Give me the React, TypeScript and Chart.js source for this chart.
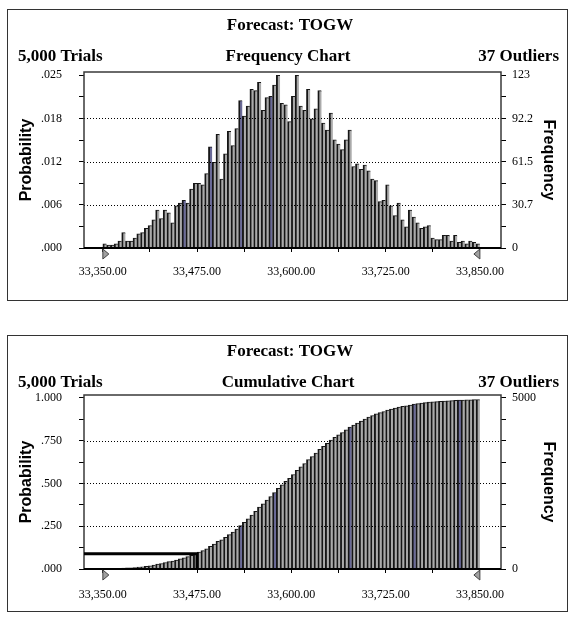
import React, { useEffect, useRef } from 'react';
import { Chart, registerables } from 'chart.js';

Chart.register(...registerables);

// ---------------- data ----------------
const forecastTitle = 'Forecast: TOGW';
const trialsText = '5,000 Trials';
const outliersText = '37 Outliers';
const frequencyChartTitle = 'Frequency Chart';
const cumulativeChartTitle = 'Cumulative Chart';
const leftAxisTitle = 'Probability';
const rightAxisTitle = 'Frequency';

const binStart = 33350;
const binWidth = 5;

// frequency of each of the 100 cells (33,350 .. 33,850)
const frequencies = [
  3, 2, 2, 3, 5, 11, 5, 5, 7, 10,
  11, 14, 16, 20, 27, 21, 27, 25, 18, 30,
  32, 34, 32, 42, 46, 46, 45, 53, 72, 61,
  81, 49, 67, 83, 73, 85, 105, 94, 101, 113,
  112, 118, 98, 107, 108, 116, 123, 103, 102, 90,
  108, 123, 101, 98, 113, 92, 99, 112, 89, 84,
  96, 77, 74, 70, 77, 84, 58, 60, 56, 59,
  55, 49, 48, 33, 34, 45, 30, 23, 32, 20,
  15, 27, 22, 18, 14, 15, 16, 7, 6, 6,
  9, 9, 5, 9, 4, 5, 3, 5, 4, 3,
];

const xTickValues = [33350, 33412.5, 33475, 33537.5, 33600, 33662.5, 33725, 33787.5, 33850];
const xTickLabels = ['33,350.00', '', '33,475.00', '', '33,600.00', '', '33,725.00', '', '33,850.00'];

const freqTickValues = [0, 15.375, 30.75, 46.125, 61.5, 76.875, 92.25, 107.625, 123];
const freqProbLabels = ['.000', '', '.006', '', '.012', '', '.018', '', '.025'];
const freqCountLabels = ['0', '', '30.7', '', '61.5', '', '92.2', '', '123'];
const freqGridValues = [30.75, 61.5, 92.25];

const cumTickValues = [0, 625, 1250, 1875, 2500, 3125, 3750, 4375, 5000];
const cumProbLabels = ['.000', '', '.250', '', '.500', '', '.750', '', '1.000'];
const cumCountLabels = ['0', '', '', '', '', '', '', '', '5000'];
const cumGridValues = [1250, 2500, 3750];

const certaintyValue = 33475;

// cumulative counts are the running total of the frequency cells
const cumulativeCounts = frequencies.reduce<number[]>((acc, f) => {
  acc.push((acc.length ? acc[acc.length - 1] : 0) + f);
  return acc;
}, []);

// ---------------- styles ----------------
const SERIF = '"Liberation Serif", "Times New Roman", serif';
const SANS = '"Liberation Sans", Arial, sans-serif';
const BAR_FILL = '#aaaaaa';
const BAR_EDGE = '#161616';
const BAR_BLUE = '#6a6a98';
const freqBlue = new Set([21, 28, 36, 44]);
const cumBlue = new Set([36, 45, 65, 82, 94]);

const decorPlugin = {
  id: 'decor',
  afterDatasetsDraw(chart: any, _args: any, opts: any) {
    const { ctx, chartArea: a, scales } = chart;
    const y = scales.y;
    const x = scales.x;
    ctx.save();
    // dotted grid lines
    ctx.strokeStyle = '#000';
    ctx.lineWidth = 1;
    ctx.setLineDash([1, 2]);
    opts.gridValues.forEach((v: number) => {
      const py = Math.round(y.getPixelForValue(v)) + 0.5;
      ctx.beginPath();
      ctx.moveTo(a.left, py);
      ctx.lineTo(a.right, py);
      ctx.stroke();
    });
    ctx.setLineDash([]);
    // frame
    ctx.strokeStyle = '#3a3a3a';
    ctx.lineWidth = 1.5;
    ctx.beginPath();
    ctx.moveTo(a.left, a.bottom);
    ctx.lineTo(a.left, a.top);
    ctx.lineTo(a.right, a.top);
    ctx.lineTo(a.right, a.bottom);
    ctx.stroke();
    ctx.strokeStyle = '#000';
    ctx.lineWidth = 2;
    ctx.beginPath();
    ctx.moveTo(a.left, a.bottom);
    ctx.lineTo(a.right, a.bottom);
    ctx.stroke();
    // certainty line
    if (opts.certainty) {
      const cx = x.getPixelForValue(opts.certainty.x);
      const cy = y.getPixelForValue(opts.certainty.y);
      ctx.strokeStyle = '#000';
      ctx.lineWidth = 3;
      ctx.beginPath();
      ctx.moveTo(a.left, cy);
      ctx.lineTo(cx, cy);
      ctx.lineTo(cx, a.bottom);
      ctx.stroke();
    }
    // range triangles
    const lx = x.getPixelForValue(xTickValues[0]);
    const rx = x.getPixelForValue(xTickValues[xTickValues.length - 1]);
    const ty = a.bottom + 1;
    ctx.fillStyle = '#a0a0a0';
    ctx.strokeStyle = '#444';
    ctx.lineWidth = 1;
    ctx.beginPath();
    ctx.moveTo(lx, ty);
    ctx.lineTo(lx, ty + 10);
    ctx.lineTo(lx + 6, ty + 5);
    ctx.closePath();
    ctx.fill();
    ctx.stroke();
    ctx.beginPath();
    ctx.moveTo(rx, ty);
    ctx.lineTo(rx, ty + 10);
    ctx.lineTo(rx - 6, ty + 5);
    ctx.closePath();
    ctx.fill();
    ctx.stroke();
    ctx.restore();
  },
  afterDraw(chart: any, _args: any, opts: any) {
    const { ctx, chartArea: a } = chart;
    ctx.save();
    ctx.fillStyle = '#000';
    ctx.textBaseline = 'middle';
    ctx.font = `bold 17px ${SERIF}`;
    ctx.textAlign = 'center';
    ctx.fillText(forecastTitle, 290, opts.titleY);
    ctx.fillText(opts.subtitle, 288, opts.subY);
    ctx.textAlign = 'left';
    ctx.fillText(trialsText, 18, opts.subY);
    ctx.textAlign = 'right';
    ctx.fillText(outliersText, 559, opts.subY);
    const midY = (a.top + a.bottom) / 2;
    ctx.font = `bold 16px ${SANS}`;
    ctx.textAlign = 'center';
    ctx.save();
    ctx.translate(27, midY);
    ctx.rotate(-Math.PI / 2);
    ctx.fillText(leftAxisTitle, 0, 0);
    ctx.restore();
    ctx.save();
    ctx.translate(548, midY);
    ctx.rotate(Math.PI / 2);
    ctx.fillText(rightAxisTitle, 0, 0);
    ctx.restore();
    ctx.restore();
  },
};

type PanelSpec = {
  values: number[];
  blue: Set<number>;
  yMax: number;
  tickValues: number[];
  leftLabels: string[];
  rightLabels: string[];
  gridValues: number[];
  padTop: number;
  xHeight: number;
  xPad: number;
  titleY: number;
  subY: number;
  subtitle: string;
  certainty?: { x: number; y: number };
};

function buildConfig(p: PanelSpec): any {
  const tickFont = { family: SERIF, size: 12 };
  const yTicks = (labels: string[], padding: number) => ({
    autoSkip: false,
    padding,
    font: tickFont,
    color: '#000',
    callback: (_v: any, i: number) => labels[i],
  });
  const yGrid = { drawOnChartArea: false, drawTicks: true, tickLength: 5, tickColor: '#000', tickWidth: 1 };
  const setYTicks = (s: any) => {
    s.ticks = p.tickValues.map((v) => ({ value: v }));
  };
  return {
    type: 'bar',
    data: {
      datasets: [
        {
          data: p.values.map((v, i) => ({ x: binStart + binWidth * (i + 0.5), y: v })),
          backgroundColor: (c: any) => (p.blue.has(c.dataIndex) ? BAR_BLUE : BAR_FILL),
          borderColor: BAR_EDGE,
          borderWidth: { left: 2.2, top: 1, right: 0, bottom: 0 },
          borderSkipped: false,
          barPercentage: 1,
          categoryPercentage: 1,
          xAxisID: 'x',
          yAxisID: 'y',
        },
      ],
    },
    options: {
      responsive: false,
      animation: false,
      events: [],
      layout: { padding: { top: p.padTop, left: 0, right: 0, bottom: 0 } },
      plugins: {
        legend: { display: false },
        tooltip: { enabled: false },
        title: { display: false },
        decor: {
          gridValues: p.gridValues,
          titleY: p.titleY,
          subY: p.subY,
          subtitle: p.subtitle,
          certainty: p.certainty,
        },
      },
      scales: {
        x: {
          type: 'linear',
          min: 33325,
          max: 33878,
          bounds: 'data',
          offset: false,
          afterBuildTicks: (s: any) => {
            s.ticks = xTickValues.map((v) => ({ value: v }));
          },
          afterFit: (s: any) => {
            s.height = p.xHeight;
          },
          ticks: {
            autoSkip: false,
            maxRotation: 0,
            minRotation: 0,
            padding: p.xPad,
            font: tickFont,
            color: '#000',
            callback: (_v: any, i: number) => xTickLabels[i],
          },
          grid: { drawOnChartArea: false, drawTicks: true, tickLength: 4, tickColor: '#000', offset: false },
          border: { display: false },
        },
        y: {
          type: 'linear',
          position: 'left',
          min: 0,
          max: p.yMax,
          bounds: 'data',
          afterBuildTicks: setYTicks,
          afterFit: (s: any) => {
            s.width = 84;
          },
          ticks: yTicks(p.leftLabels, 17),
          grid: yGrid,
          border: { display: false },
        },
        y2: {
          type: 'linear',
          position: 'right',
          min: 0,
          max: p.yMax,
          bounds: 'data',
          afterBuildTicks: setYTicks,
          afterFit: (s: any) => {
            s.width = 74;
          },
          ticks: yTicks(p.rightLabels, 6),
          grid: yGrid,
          border: { display: false },
        },
      },
    },
    plugins: [decorPlugin],
  };
}

export default function App() {
  const ref1 = useRef<HTMLCanvasElement>(null);
  const ref2 = useRef<HTMLCanvasElement>(null);

  useEffect(() => {
    const certaintyIndex = Math.round((certaintyValue - binStart) / binWidth) - 1;
    const c1 = new Chart(
      ref1.current as HTMLCanvasElement,
      buildConfig({
        values: frequencies,
        blue: freqBlue,
        yMax: 125.3,
        tickValues: freqTickValues,
        leftLabels: freqProbLabels,
        rightLabels: freqCountLabels,
        gridValues: freqGridValues,
        padTop: 72,
        xHeight: 57,
        xPad: 13,
        titleY: 26,
        subY: 57,
        subtitle: frequencyChartTitle,
      })
    );
    const c2 = new Chart(
      ref2.current as HTMLCanvasElement,
      buildConfig({
        values: cumulativeCounts,
        blue: cumBlue,
        yMax: 5085,
        tickValues: cumTickValues,
        leftLabels: cumProbLabels,
        rightLabels: cumCountLabels,
        gridValues: cumGridValues,
        padTop: 75,
        xHeight: 48,
        xPad: 15,
        titleY: 32,
        subY: 63,
        subtitle: cumulativeChartTitle,
        certainty: { x: certaintyValue, y: cumulativeCounts[certaintyIndex] },
      })
    );
    return () => {
      c1.destroy();
      c2.destroy();
    };
  }, []);

  const panel = (top: number, height: number): React.CSSProperties => ({
    position: 'absolute',
    left: 7,
    top,
    width: 561,
    height,
    border: '1px solid #333',
    boxSizing: 'border-box',
    background: '#fff',
  });

  return (
    <div style={{ position: 'absolute', left: 0, top: 0, width: 575, height: 617, background: '#fff' }}>
      <div style={panel(9, 292)} />
      <div style={panel(335, 277)} />
      <canvas
        ref={ref1}
        width={575}
        height={305}
        style={{ position: 'absolute', left: 0, top: 0, width: 575, height: 305 }}
      />
      <canvas
        ref={ref2}
        width={575}
        height={297}
        style={{ position: 'absolute', left: 0, top: 320, width: 575, height: 297 }}
      />
    </div>
  );
}
